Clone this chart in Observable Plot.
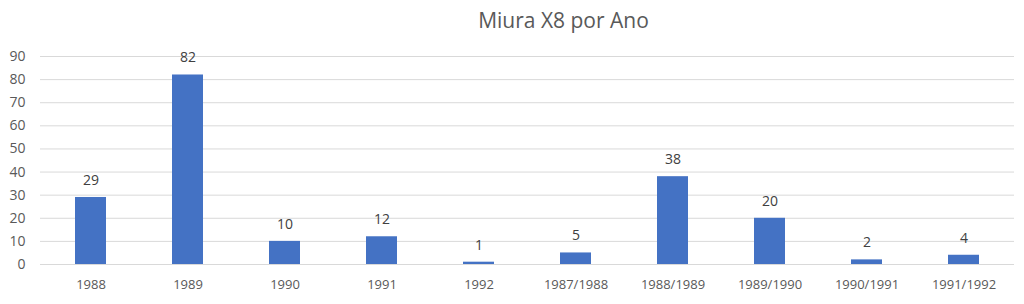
<!DOCTYPE html>
<html>
<head>
<meta charset="utf-8">
<script src="https://cdn.jsdelivr.net/npm/d3@7"></script>
<script src="https://cdn.jsdelivr.net/npm/@observablehq/plot@0.6"></script>
<style>
  html, body { margin: 0; padding: 0; background: #fff; }
  #title { height: 40px; width: 1024px; font-family: "Open Sans", "Noto Sans", sans-serif; font-size: 21px; color: #595959; text-align: center; line-height: 40px; padding-left: 103px; box-sizing: border-box; }
  svg { display: block; }
</style>
</head>
<body>
<div id="title">Miura X8 por Ano</div>
<div id="chart"></div>
<script>
const categories = ["1988", "1989", "1990", "1991", "1992", "1987/1988", "1988/1989", "1989/1990", "1990/1991", "1991/1992"];
const values = [29, 82, 10, 12, 1, 5, 38, 20, 2, 4];
const yTicks = [0, 10, 20, 30, 40, 50, 60, 70, 80, 90];

const data = categories.map((c, i) => ({ category: c, value: values[i] }));

const chart = Plot.plot({
  width: 1024,
  height: 264,
  marginTop: 16,
  marginBottom: 40,
  marginLeft: 40,
  marginRight: 10,
  style: { fontFamily: "'Open Sans', 'Noto Sans', sans-serif", fontSize: "13px", color: "#595959", background: "#fff" },
  x: { domain: categories, paddingInner: 0.68, paddingOuter: 0.34, label: null },
  y: { domain: [0, 90], label: null },
  marks: [
    Plot.ruleY(yTicks, { stroke: "#d9d9d9", strokeWidth: 1 }),
    Plot.axisY({ ticks: yTicks, tickSize: 0, tickPadding: 15, label: null, fontSize: 14 }),
    Plot.axisX({ tickSize: 0, tickPadding: 15, label: null, fontSize: 13 }),
    Plot.barY(data, { x: "category", y: "value", fill: "#4472C4" }),
    Plot.text(data, { x: "category", y: "value", text: d => String(d.value), dy: -17, fill: "#404040", fontSize: 14 })
  ]
});
document.getElementById("chart").appendChild(chart);
</script>
</body>
</html>
